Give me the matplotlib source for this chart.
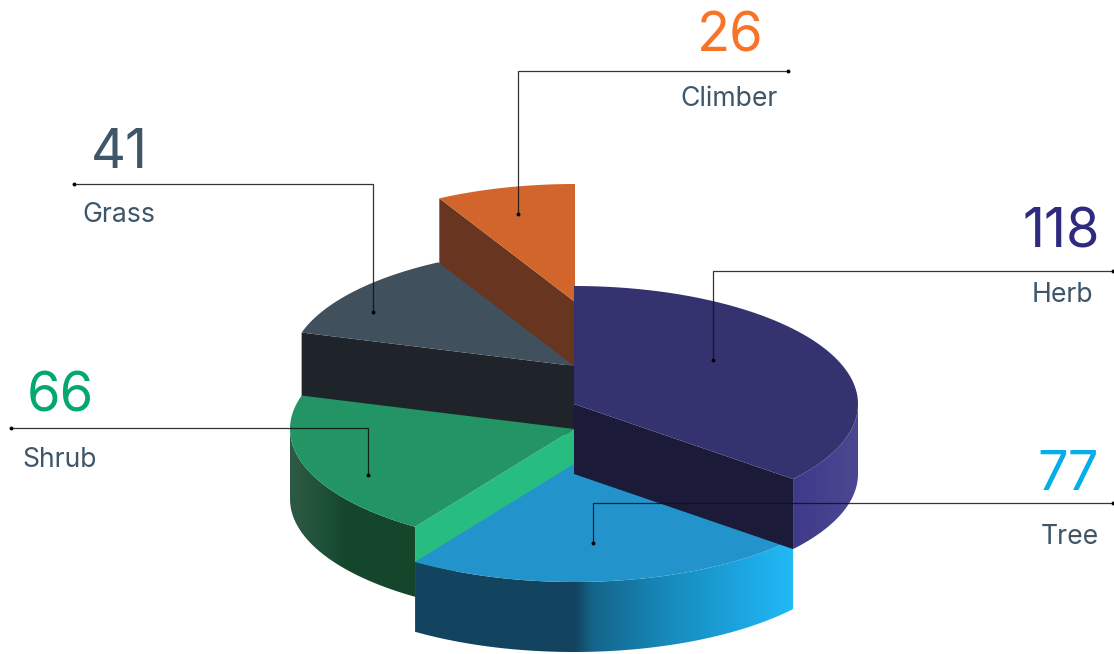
#!/usr/bin/env python
import numpy as np
import matplotlib
matplotlib.use("Agg")
import matplotlib.pyplot as plt
from matplotlib.colors import LinearSegmentedColormap
from matplotlib.patches import Polygon

plt.rcParams['font.family'] = ['Inter', 'Roboto', 'DejaVu Sans']

# clockwise from 12 o'clock
names = ['Herb', 'Tree', 'Shrub', 'Grass', 'Climber']
values = [118, 77, 66, 41, 26]
number_colors = ['#2E2A80', '#05ADEA', '#03A86E', '#3F5568', '#F97327']
top_colors = ['#353270', '#2394CB', '#239463', '#40505C', '#D2652B']
cut_colors = ['#1C1A39', None, '#27BC80', '#1E2429', '#683520']
wall_stops = [
    [(0, '#3F3A8A'), (1, '#4B4890')],
    [(0, '#12435F'), (0.42, '#12435F'), (0.47, '#14658A'), (0.65, '#1787B8'), (0.86, '#1CA5DF'), (1, '#22B9F7')],
    [(0, '#2F5A45'), (0.25, '#1E5238'), (0.45, '#14462B'), (1, '#14462B')],
    [(0, '#1E2429'), (1, '#1E2429')],
    [(0, '#683520'), (1, '#683520')],
]

# slice centres, so the exploded look comes from these
center_x = [574, 574, 574, 574, 575]
center_y = [404, 464, 429, 366, 302]
rx, ry, depth = 284, 118, 70

# leader lines: (x, y) corners, both ends get a dot
leaders = [
    [(1113, 271), (713, 271), (713, 360)],
    [(1113, 503), (593, 503), (593, 543)],
    [(11, 428), (368, 428), (368, 475)],
    [(74, 184), (373, 184), (373, 312)],
    [(788, 71), (518, 71), (518, 214)],
]
number_pos = [(1100, 233), (1099, 475), (60, 397), (119, 153), (730, 37)]
number_ha = ['right', 'right', 'center', 'center', 'center']
name_pos = [(1062, 295), (1070, 537), (60, 460), (119, 215), (729, 99)]


def arc(cx, cy, a0, a1, dy=0):
    t = np.radians(np.linspace(a0, a1, 120))
    return np.column_stack([cx + rx * np.cos(t), cy - ry * np.sin(t) + dy])


def gradient_fill(ax, pts, stops, z):
    cmap = LinearSegmentedColormap.from_list('w', stops)
    x0, x1 = pts[:, 0].min(), pts[:, 0].max()
    y0, y1 = pts[:, 1].min(), pts[:, 1].max()
    im = ax.imshow(np.linspace(0, 1, 400).reshape(1, -1), cmap=cmap, aspect='auto',
                   extent=(x0, x1, y1, y0), zorder=z, interpolation='bilinear')
    clip = Polygon(pts, closed=True, transform=ax.transData, facecolor='none', edgecolor='none')
    ax.add_patch(clip)
    im.set_clip_path(clip)


fig = plt.figure(figsize=(11.14, 6.54), dpi=100)
ax = fig.add_axes([0, 0, 1, 1])

sweep = np.array(values) / sum(values) * 360
start = 90 - np.concatenate([[0], np.cumsum(sweep)[:-1]])
end = start - sweep

# back to front
order = [4, 3, 2, 1, 0]
for z, i in enumerate(order):
    cx, cy = center_x[i], center_y[i]
    base = z * 10 + 1
    outer = arc(cx, cy, start[i], end[i])

    # outer wall only shows on the front half of the ellipse
    a0 = min(start[i], 0)
    a1 = max(end[i], -180)
    if a0 > a1:
        wall = np.vstack([arc(cx, cy, a0, a1), arc(cx, cy, a1, a0, depth)])
        gradient_fill(ax, wall, wall_stops[i], base)

    # the flat cut side that faces us, herb shows its end, the others their start
    if cut_colors[i] is not None:
        a = end[i] if i == 0 else start[i]
        p = arc(cx, cy, a, a)[0]
        cut = [p, (cx, cy), (cx, cy + depth), (p[0], p[1] + depth)]
        ax.add_patch(Polygon(cut, closed=True, facecolor=cut_colors[i], edgecolor='none', zorder=base + 1))

    top = np.vstack([[(cx, cy)], outer])
    ax.add_patch(Polygon(top, closed=True, facecolor=top_colors[i], edgecolor='none', zorder=base + 2))

for i, pts in enumerate(leaders):
    xs = [p[0] for p in pts]
    ys = [p[1] for p in pts]
    ax.plot(xs, ys, color='#111111', lw=0.9, zorder=100, solid_joinstyle='miter', alpha=0.85)
    ax.plot([xs[0], xs[-1]], [ys[0], ys[-1]], 'o', color='black', ms=2.8, mew=0, zorder=101)
    ax.text(number_pos[i][0], number_pos[i][1], str(values[i]), color=number_colors[i], fontsize=39,
            ha=number_ha[i], va='center', zorder=102)
    ax.text(name_pos[i][0], name_pos[i][1], names[i], color='#3F5568', fontsize=19.2,
            ha='center', va='center', zorder=102)

ax.set_xlim(0, 1114)
ax.set_ylim(654, 0)
ax.axis('off')
fig.savefig('out.png', dpi=100)
